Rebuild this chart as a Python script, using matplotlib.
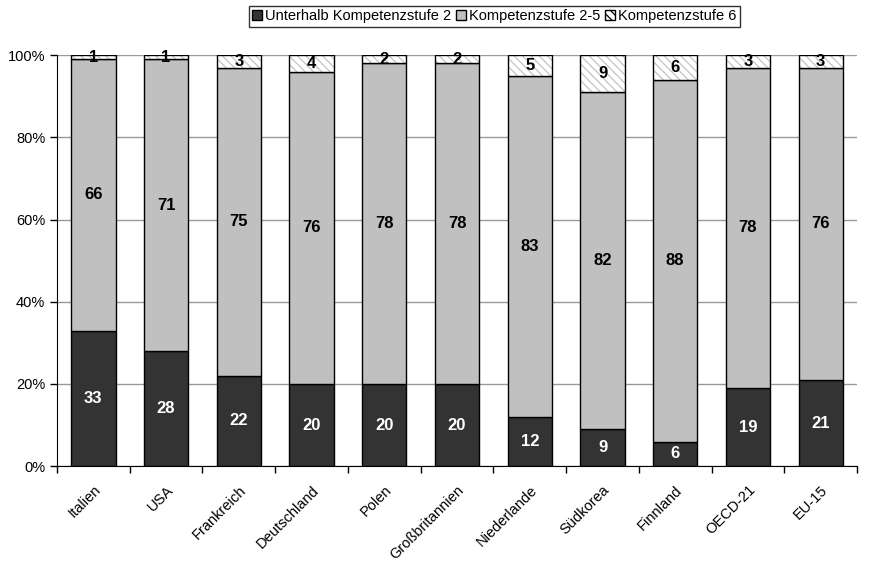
import matplotlib
matplotlib.use("Agg")
import matplotlib.pyplot as plt
from matplotlib.patches import Patch
from matplotlib.ticker import FixedLocator, PercentFormatter
from matplotlib.transforms import ScaledTranslation
import numpy as np

plt.rcParams['font.family'] = ['Liberation Sans', 'DejaVu Sans']
plt.rcParams['hatch.linewidth'] = 0.9

laender = ["Italien", "USA", "Frankreich", "Deutschland", "Polen",
           "Großbritannien", "Niederlande", "Südkorea", "Finnland",
           "OECD-21", "EU-15"]
unter_stufe2 = [33, 28, 22, 20, 20, 20, 12, 9, 6, 19, 21]
stufe_2_5 = [66, 71, 75, 76, 78, 78, 83, 82, 88, 78, 76]
stufe_6 = [1, 1, 3, 4, 2, 2, 5, 9, 6, 3, 3]
serien = ["Unterhalb Kompetenzstufe 2", "Kompetenzstufe 2-5", "Kompetenzstufe 6"]

fig = plt.figure(figsize=(8.89, 5.63), dpi=100)
ax = fig.add_axes([0.0641, 0.172, 0.9, 0.73])

x = np.arange(len(laender))
breite = 0.61
a = np.array(unter_stufe2, float)
b = np.array(stufe_2_5, float)
c = np.array(stufe_6, float)

ax.bar(x, a, breite, color="#333333", edgecolor="black", linewidth=1, zorder=3)
ax.bar(x, b, breite, bottom=a, color="#c0c0c0", edgecolor="black", linewidth=1, zorder=3)
# hatched top segment: light grey stripes, then a black outline on top
ax.bar(x, c, breite, bottom=a + b, color="white", edgecolor="#c4c4c4",
       hatch="\\\\\\\\", linewidth=0, zorder=3)
ax.bar(x, c, breite, bottom=a + b, fill=False, edgecolor="black", linewidth=1, zorder=4)

for i in range(len(laender)):
    ax.text(x[i], a[i] / 2, f"{unter_stufe2[i]}", ha="center", va="center",
            color="white", fontsize=12, fontweight="bold", zorder=5)
    ax.text(x[i], a[i] + b[i] / 2, f"{stufe_2_5[i]}", ha="center", va="center",
            color="black", fontsize=12, fontweight="bold", zorder=5)
    ax.text(x[i], a[i] + b[i] + c[i] / 2, f"{stufe_6[i]}", ha="center", va="center",
            color="black", fontsize=12, fontweight="bold", zorder=5)

ax.set_xlim(-0.5, len(laender) - 0.5)
ax.set_ylim(0, 100)
ax.set_yticks([0, 20, 40, 60, 80, 100])
ax.yaxis.set_major_formatter(PercentFormatter(decimals=0))
ax.grid(axis="y", color="#999999", linewidth=1, zorder=0)
ax.set_axisbelow(True)

ax.set_xticks(x)
ax.set_xticklabels(laender, rotation=45, ha="right", rotation_mode="anchor", fontsize=10.5)
verschiebung = ScaledTranslation(-4 / 100, 0, fig.dpi_scale_trans)
for lbl in ax.get_xticklabels():
    lbl.set_transform(lbl.get_transform() + verschiebung)
ax.xaxis.set_minor_locator(FixedLocator(np.arange(-0.5, len(laender), 1.0)))
ax.tick_params(axis="x", which="major", length=0, pad=12)
ax.tick_params(axis="x", which="minor", length=5, width=1, color="black", direction="out")
ax.tick_params(axis="y", length=5, width=1, direction="out", labelsize=10.5)

for s in ["top", "right"]:
    ax.spines[s].set_visible(False)
ax.spines["left"].set_color("black")
ax.spines["bottom"].set_color("black")

handles = [
    Patch(facecolor="#333333", edgecolor="black", label=serien[0]),
    Patch(facecolor="#c0c0c0", edgecolor="black", label=serien[1]),
    Patch(facecolor="white", edgecolor="black", hatch="\\\\\\\\", label=serien[2]),
]
leg = fig.legend(handles=handles, loc="upper center", bbox_to_anchor=(0.556, 0.99),
                 ncol=3, fontsize=10.5, frameon=True, fancybox=False,
                 handlelength=0.7, handleheight=0.7, handletextpad=0.2,
                 columnspacing=0.3, borderpad=0.25, borderaxespad=0)
leg.get_frame().set_edgecolor("black")
leg.get_frame().set_linewidth(1)

fig.savefig("out.png", dpi=100)
